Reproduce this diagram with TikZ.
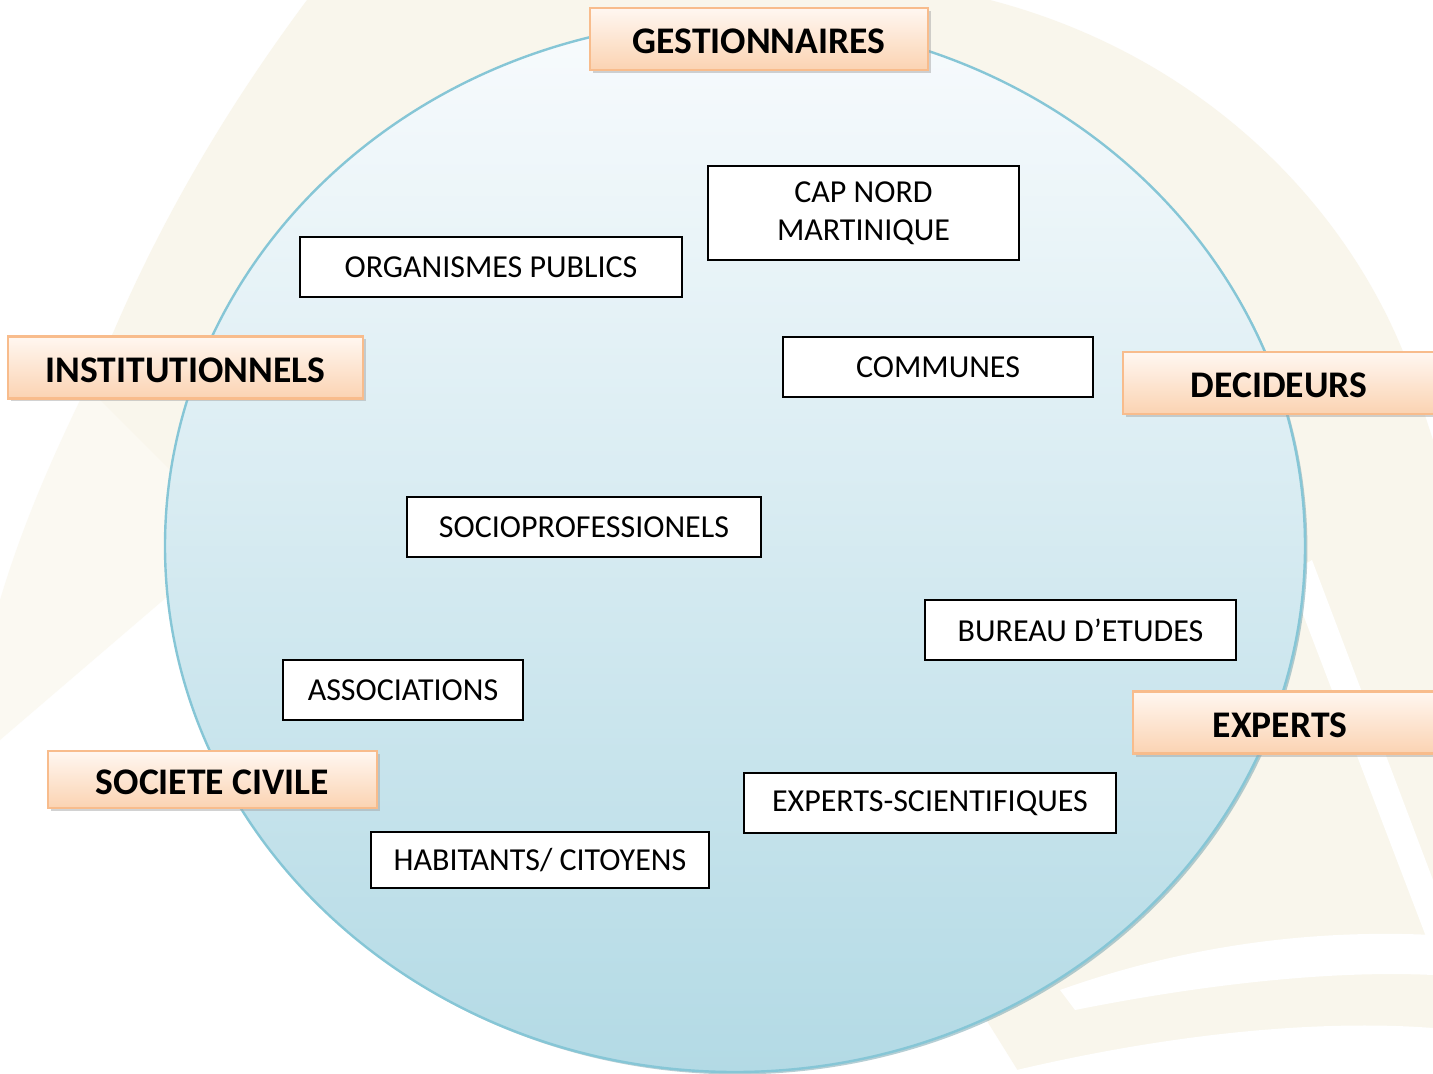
\documentclass[tikz,border=0pt]{standalone}
\usepackage{fontspec}
\setmainfont{Carlito}
\usetikzlibrary{shadows}
\definecolor{creambg}{HTML}{F9F6EC}
\definecolor{creamfaint}{HTML}{FBF9F2}
\definecolor{ringline}{HTML}{86C6D6}
\definecolor{ringtop}{HTML}{F8FBFD}
\definecolor{ringbot}{HTML}{B3DAE5}
\definecolor{peachtop}{HTML}{FFF7F1}
\definecolor{peachbot}{HTML}{FBD3B2}
\definecolor{peachedge}{HTML}{F8BC8C}
\tikzset{
  catbox/.style={draw=peachedge, line width=1.1pt, top color=peachtop, bottom color=peachbot,
    font=\fontsize{18.8}{22}\selectfont\bfseries, minimum height=31pt, inner sep=0pt,
    text height=15pt, text depth=0pt,
    drop shadow={shadow xshift=1.3pt, shadow yshift=-1.5pt, fill=black!35}},
  actbox/.style={draw=black, line width=0.8pt, fill=white, align=center,
    font=\fontsize{16}{19}\selectfont, minimum height=30pt, inner sep=0pt,
    drop shadow={shadow xshift=0.6pt, shadow yshift=-0.6pt, fill=black!40}},
}
\newcommand{\catnode}[4]{\node[catbox, minimum width=#3] (#1) at (#2) {#4};}
\newcommand{\actnode}[4]{\node[actbox, minimum width=#3] (#1) at (#2) {#4};}

\begin{document}
\begin{tikzpicture}[x=0.5pt, y=-0.5pt]
  \useasboundingbox (0,0) rectangle (1433,1074);
  \fill[white] (0,0) rectangle (1433,1074);
  % background swooshes
  \fill[creamfaint] (113,333) .. controls (70,420) and (30,500) .. (0,600)
    -- (0,740) -- (175,590) -- (300,420) -- cycle;
  \fill[creambg] (307,0) -- (990,0) .. controls (1220,60) and (1370,230) .. (1420,400)
    -- (1433,440) -- (1433,1074) -- (1020,1074) -- (700,560) -- (170,470)
    -- (90,390) -- (113,333) .. controls (170,200) and (240,90) .. (307,0) -- cycle;
  \fill[white] (1288,575) -- (1312,560) -- (1433,880) -- (1433,955) -- cycle;
  \fill[white] (1060,990) .. controls (1200,940) and (1330,930) .. (1433,935)
    -- (1433,975) .. controls (1330,970) and (1200,985) .. (1075,1010) -- cycle;
  \fill[white] (1000,1074) .. controls (1180,1030) and (1330,1020) .. (1433,1028) -- (1433,1074) -- cycle;
  % the ring
  \draw[ringline, line width=1.2pt, top color=ringtop, bottom color=ringbot,
    drop shadow={shadow xshift=1.2pt, shadow yshift=-1.2pt, fill=ringline!80!black}]
    (735,546) ellipse [x radius=285pt, y radius=263pt];
  % categories
  \catnode{gest}{759,39}{169pt}{GESTIONNAIRES}
  \catnode{inst}{185.5,367.5}{177.5pt}{INSTITUTIONNELS}
  \catnode{deci}{1290,383}{167pt}{\hspace*{-11pt}DECIDEURS}
  \catnode{expe}{1300,722.5}{167pt}{\hspace*{-20pt}EXPERTS}
  \node[catbox, minimum width=164.5pt, minimum height=28.5pt] (soci) at (212.5,779.5) {SOCIETE CIVILE};
  % actors
  \actnode{orga}{491,267}{191pt}{ORGANISMES PUBLICS}
  \node[actbox, minimum width=155.5pt, minimum height=47pt] (capn) at (863.5,213) {CAP NORD\\MARTINIQUE};
  \actnode{comm}{938,367}{155pt}{COMMUNES}
  \actnode{socp}{584,527}{177pt}{SOCIOPROFESSIONELS}
  \actnode{bure}{1080.5,630}{155.5pt}{BUREAU D’ETUDES}
  \actnode{asso}{403,690}{120pt}{ASSOCIATIONS}
  \actnode{exsc}{930,803}{186pt}{EXPERTS-SCIENTIFIQUES}
  \node[actbox, minimum width=169pt, minimum height=28pt] (habi) at (540,860) {HABITANTS/ CITOYENS};
\end{tikzpicture}
\end{document}
